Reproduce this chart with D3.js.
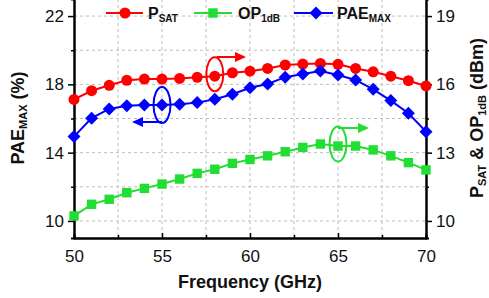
<!DOCTYPE html>
<html><head><meta charset="utf-8">
<script src="https://cdn.jsdelivr.net/npm/d3@7"></script>
<style>body{margin:0;background:#fff}svg{display:block}text{font-family:"Liberation Sans",Arial,sans-serif}</style>
</head><body><svg id="c" width="489" height="298"></svg>
<script>
const freq = [50,51,52,53,54,55,56,57,58,59,60,61,62,63,64,65,66,67,68,69,70];
const psat = [15.34,15.72,15.96,16.18,16.23,16.23,16.26,16.31,16.36,16.51,16.58,16.70,16.85,16.89,16.92,16.88,16.70,16.55,16.36,16.16,15.93];
const op1db = [10.22,10.73,10.95,11.24,11.43,11.62,11.84,12.09,12.27,12.53,12.70,12.86,13.04,13.23,13.38,13.29,13.29,13.12,12.86,12.56,12.24];
const pae = [14.94,16.02,16.56,16.74,16.79,16.79,16.84,16.93,17.13,17.42,17.80,18.02,18.42,18.61,18.78,18.55,18.26,17.71,17.05,16.31,15.23];
const xTicks = [50,55,60,65,70];
const xMinor = [52.5,57.5,62.5,67.5];
const yLeftTicks = [10,14,18,22];
const yLeftMinor = [12,16,20];
const yRightTicks = [10,13,16,19];
const yRightMinor = [11.5,14.5,17.5];

const svg = d3.select("#c");
const L=74, R=426, T=-1, B=238;
const x = d3.scaleLinear().domain([50,70]).range([L,R]);
const yL = d3.scaleLinear().domain([9,23]).range([B,T]);
const yR = d3.scaleLinear().domain([9.25,19.75]).range([B,T]);

// grid
const grid = svg.append("g").attr("stroke","#bdbdbd").attr("stroke-width",1).attr("stroke-dasharray","3,3");
xMinor.concat([55,60,65]).forEach(v=>grid.append("line").attr("x1",x(v)).attr("x2",x(v)).attr("y1",T).attr("y2",B));
yLeftTicks.concat(yLeftMinor).forEach(v=>grid.append("line").attr("x1",L).attr("x2",R).attr("y1",yL(v)).attr("y2",yL(v)));

// axes
const fs = 17;
const ax = svg.append("g").attr("transform",`translate(0,${B})`).call(d3.axisBottom(x).tickValues(xTicks).tickSizeInner(-5).tickSizeOuter(0).tickPadding(12));
const axm = svg.append("g").attr("transform",`translate(0,${B})`).call(d3.axisBottom(x).tickValues(xMinor).tickSize(-3).tickFormat(""));
const ayl = svg.append("g").attr("transform",`translate(${L},0)`).call(d3.axisLeft(yL).tickValues(yLeftTicks).tickSizeInner(6).tickSizeOuter(0).tickPadding(4));
const aylm = svg.append("g").attr("transform",`translate(${L},0)`).call(d3.axisLeft(yL).tickValues(yLeftMinor).tickSize(3).tickFormat(""));
const ayr = svg.append("g").attr("transform",`translate(${R},0)`).call(d3.axisRight(yR).tickValues(yRightTicks).tickSizeInner(6).tickSizeOuter(0).tickPadding(4));
const ayrm = svg.append("g").attr("transform",`translate(${R},0)`).call(d3.axisRight(yR).tickValues(yRightMinor).tickSize(3).tickFormat(""));
[ax,axm,ayl,aylm,ayr,ayrm].forEach(g=>{
  g.selectAll("path.domain").attr("stroke","#000").attr("stroke-width",2);
  g.selectAll(".tick line").attr("stroke","#000").attr("stroke-width",1.5);
  g.selectAll("text").attr("font-size",fs).attr("fill","#111").attr("font-family","Liberation Sans, Arial, sans-serif");
});
ax.selectAll("text").attr("dy","0.71em");

// series
const series = [
  {vals:psat, y:yR, color:"#ff0000", shape:"circle"},
  {vals:op1db, y:yR, color:"#22dd33", shape:"square"},
  {vals:pae, y:yL, color:"#0000ff", shape:"diamond"}
];
function marker(g, shape, cx, cy, color){
  if(shape==="circle") g.append("circle").attr("cx",cx).attr("cy",cy).attr("r",5.5).attr("fill",color);
  else if(shape==="square") g.append("rect").attr("x",cx-4.7).attr("y",cy-4.7).attr("width",9.4).attr("height",9.4).attr("fill",color);
  else g.append("path").attr("d",`M${cx},${cy-6.5}L${cx+6.5},${cy}L${cx},${cy+6.5}L${cx-6.5},${cy}Z`).attr("fill",color);
}
svg.append("defs");
series.forEach(s=>{
  const g = svg.append("g");
  g.append("path").datum(s.vals).attr("fill","none").attr("stroke",s.color).attr("stroke-width",2)
    .attr("d",d3.line().x((d,i)=>x(freq[i])).y(d=>s.y(d)));
  s.vals.forEach((v,i)=>marker(g,s.shape,x(freq[i]),s.y(v),s.color));
});

// annotations
function arrowHead(g, x0, y0, dir, color){
  g.append("path").attr("d",`M${x0},${y0}L${x0-dir*11},${y0-5}L${x0-dir*11},${y0+5}Z`).attr("fill",color);
}
function annot(xv, yv, ry, arrowY, x1, x2, dir, color){
  const g = svg.append("g");
  g.append("ellipse").attr("cx",x(xv)).attr("cy",yv).attr("rx",8.5).attr("ry",ry).attr("fill","none").attr("stroke",color).attr("stroke-width",2);
  g.append("line").attr("x1",x1).attr("x2",x2-dir*8).attr("y1",arrowY).attr("y2",arrowY).attr("stroke",color).attr("stroke-width",2);
  arrowHead(g,x2,arrowY,dir,color);
}
annot(58, yR(psat[8])-2, 17, 57, x(58)+2, 246, 1, "#ff0000");
annot(55, yL(pae[5]), 18, 122, x(55), 132, -1, "#0000ff");
annot(65, (yR(op1db[15])-2), 17.5, 128, x(65), 369, 1, "#22dd33");

// legend
const leg = svg.append("g").attr("font-weight","bold").attr("fill","#111");
const legItems = [
  {x1:106,x2:143,m:125,t:148,main:"P",sub:"SAT",color:"#ff0000",shape:"circle"},
  {x1:194,x2:232,m:213,t:238,main:"OP",sub:"1dB",color:"#22dd33",shape:"square"},
  {x1:294,x2:333,m:316,t:337,main:"PAE",sub:"MAX",color:"#0000ff",shape:"diamond"}
];
legItems.forEach(it=>{
  leg.append("line").attr("x1",it.x1).attr("x2",it.x2).attr("y1",13).attr("y2",13).attr("stroke",it.color).attr("stroke-width",2);
  marker(leg,it.shape,it.m,13,it.color);
  const t = leg.append("text").attr("x",it.t).attr("y",19).attr("font-size",16);
  t.append("tspan").text(it.main);
  t.append("tspan").attr("font-size",10).attr("dy",3).text(it.sub);
});

// axis titles
svg.append("text").attr("x",x(60)).attr("y",288).attr("text-anchor","middle").attr("font-size",18).attr("font-weight","bold").attr("fill","#111").text("Frequency (GHz)");
const tl = svg.append("text").attr("transform","translate(24,118) rotate(-90)").attr("text-anchor","middle").attr("font-size",18).attr("font-weight","bold").attr("fill","#111");
tl.append("tspan").text("PAE");
tl.append("tspan").attr("font-size",11).attr("dy",3).text("MAX");
tl.append("tspan").attr("dy",-3).text(" (%)");
const tr = svg.append("text").attr("transform","translate(483,118) rotate(-90)").attr("text-anchor","middle").attr("font-size",18).attr("font-weight","bold").attr("fill","#111");
tr.append("tspan").text("P");
tr.append("tspan").attr("font-size",11).attr("dy",2.5).text("SAT");
tr.append("tspan").attr("dy",-2.5).text(" & OP");
tr.append("tspan").attr("font-size",11).attr("dy",2.5).text("1dB");
tr.append("tspan").attr("dy",-2.5).text(" (dBm)");
</script></body></html>
